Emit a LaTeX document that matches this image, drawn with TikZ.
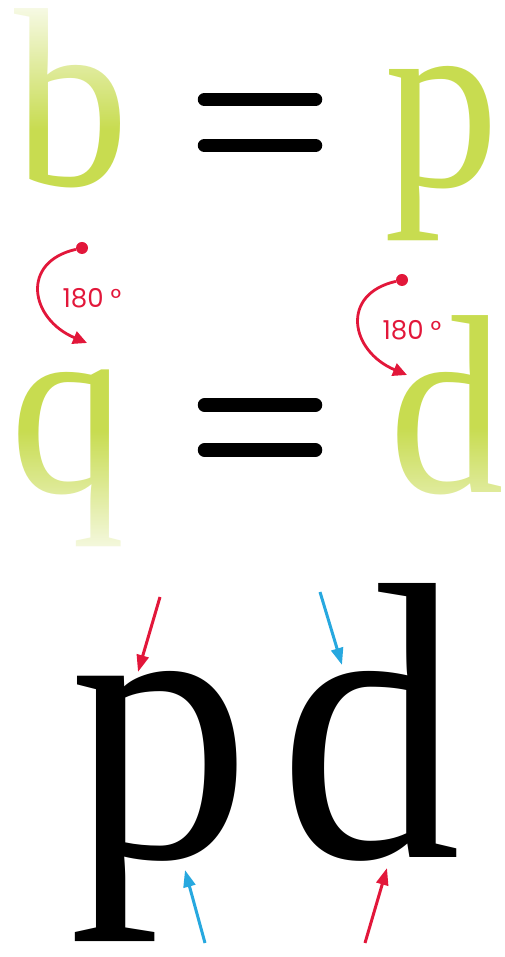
\documentclass[tikz,border=0pt]{standalone}
\usepackage{fontspec}
\setmainfont{Liberation Serif}
\newfontfamily\degfont{Poppins}
\usetikzlibrary{arrows.meta,fadings}
\definecolor{leaf}{RGB}{200,220,80}
\definecolor{turnred}{RGB}{226,23,58}
\definecolor{hintblue}{RGB}{39,168,223}

\begin{document}
\begin{tikzpicture}[x=1pt, y=1pt,
  glyphsm/.style={font=\fontsize{255}{255}\selectfont, inner sep=0, anchor=base, text=leaf},
  glyphbig/.style={font=\fontsize{395}{395}\selectfont, inner sep=0, anchor=base, text=black},
  bar/.style={line width=13.5pt, line cap=round},
  turn/.style={turnred, line width=2.8pt, -{Triangle[length=14pt,width=13pt]}},
  pivot/.style={circle, fill=turnred, inner sep=0, minimum size=12pt},
  deg/.style={font=\degfont\fontsize{26}{26}\selectfont, text=turnred, inner sep=0},
  hint/.style={line width=3pt, -{Triangle[length=17pt,width=12pt]}}
]
\useasboundingbox (0,0) rectangle (504,957);

% green letters
\node[glyphsm] (bTop) at (72,771) {\scalebox{0.9}[1]{b}};
\node[glyphsm] (pTop) at (442,770) {\scalebox{0.9}[1]{p}};
\node[glyphsm] (qMid) at (68,464) {\scalebox{0.9}[1]{q}};
\node[glyphsm] (dMid) at (447,464) {\scalebox{0.9}[1]{d}};

% washes
\fill[white, fill opacity=0.9, path fading=south] (5,827) rectangle (140,957);
\fill[white, fill opacity=0.9, path fading=north] (5,397) rectangle (140,527);
\fill[white, fill opacity=0.5, path fading=north] (385,455) rectangle (504,530);

% equals
\foreach \y in {857.5,811.5,552,507} {
  \draw[bar] (204.5,\y) -- (315.5,\y);
}

% rotations
\node[pivot] (rotA) at (82,709) {};
\coordinate (rotAend) at (87,614);
\draw[turn] (rotA) .. controls (20,695) and (30,638) .. (rotAend);
\node[deg] (angA) at (92,659) {180 °};

\node[pivot] (rotB) at (402,677) {};
\coordinate (rotBend) at (407,582);
\draw[turn] (rotB) .. controls (340,663) and (350,606) .. (rotBend);
\node[deg] (angB) at (412,627) {180 °};

% black pair
\node[glyphbig] (pBig) at (160,99) {\scalebox{0.92}[1]{p}};
\node[glyphbig] (dBig) at (370,99) {\scalebox{0.92}[1]{d}};

\coordinate (redA) at (160,360);
\coordinate (redAtip) at (138,285);
\coordinate (blueA) at (320,365);
\coordinate (blueAtip) at (342,292);
\coordinate (blueB) at (205,14);
\coordinate (blueBtip) at (185,87);
\coordinate (redB) at (365,14);
\coordinate (redBtip) at (387,89);
\draw[hint, turnred] (redA) -- (redAtip);
\draw[hint, hintblue] (blueA) -- (blueAtip);
\draw[hint, hintblue] (blueB) -- (blueBtip);
\draw[hint, turnred] (redB) -- (redBtip);
\end{tikzpicture}
\end{document}
